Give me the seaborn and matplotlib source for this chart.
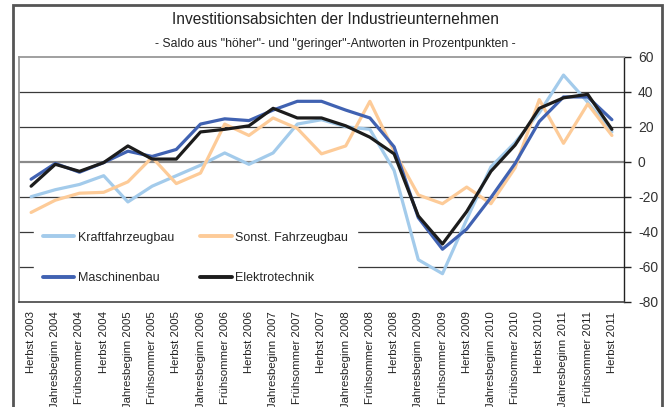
import matplotlib
matplotlib.use("Agg")
import matplotlib.pyplot as plt
import matplotlib.patches as patches
import seaborn as sns
import numpy as np

#%% data
labels = ["Herbst 2003", "Jahresbeginn 2004", "Frühsommer 2004", "Herbst 2004",
          "Jahresbeginn 2005", "Frühsommer 2005", "Herbst 2005", "Jahresbeginn 2006",
          "Frühsommer 2006", "Herbst 2006", "Jahresbeginn 2007", "Frühsommer 2007",
          "Herbst 2007", "Jahresbeginn 2008", "Frühsommer 2008", "Herbst 2008",
          "Jahresbeginn 2009", "Frühsommer 2009", "Herbst 2009", "Jahresbeginn 2010",
          "Frühsommer 2010", "Herbst 2010", "Jahresbeginn 2011", "Frühsommer 2011",
          "Herbst 2011"]
kraftfahrzeugbau = [-20, -16, -13, -8, -23, -14, -8, -2, 5, -1.5, 5, 21.5, 24,
                    20, 18.5, -5, -56, -64, -33, -3, 11, 28, 49.5, 34, 17]
sonst_fahrzeugbau = [-29, -22, -18, -17.5, -11.5, 2.5, -12.5, -6.5, 21.5, 15, 25, 19, 4.5,
                     9, 34.5, 6, -19, -24, -14.5, -24, -3.5, 35.5, 10.5, 33, 15]
maschinenbau = [-10, -1, -6, -0.5, 6, 3, 7, 21.5, 24.5, 23.5, 29.5, 34.5, 34.5,
                29.5, 25, 8.5, -32, -50, -38.5, -20.5, -1, 23, 37, 37, 24]
elektrotechnik = [-14, -1.5, -5.5, -0.5, 9, 1.5, 1.5, 17, 18.5, 20.5, 30.5, 25, 25,
                  20.5, 14, 4.5, -31, -47, -28.5, -5.5, 9.5, 30.5, 36.5, 38.5, 18.5]

series = [("Kraftfahrzeugbau", kraftfahrzeugbau, "#a3cbeb"),
          ("Sonst. Fahrzeugbau", sonst_fahrzeugbau, "#fdcb98"),
          ("Maschinenbau", maschinenbau, "#4062b2"),
          ("Elektrotechnik", elektrotechnik, "#1c1c1c")]

#%% setup plot
sns.set_style("white")
plt.rcParams["font.family"] = ["Liberation Sans", "DejaVu Sans"]
plt.rcParams["axes.unicode_minus"] = False

fig = plt.figure(figsize=(6.71, 4.07), dpi=100)
ax = fig.add_axes([19/671, 1 - 301.7/407, (624 - 19)/671, (301.7 - 56.7)/407])

x = np.arange(len(labels))
for name, vals, col in series:
    sns.lineplot(x=x, y=vals, color=col, linewidth=2.3, label=name, ax=ax, zorder=3)

ax.set_xlim(-0.5, len(labels) - 0.5)
ax.set_ylim(-80, 60)

# grid
for g in [40, 20, -20, -40, -60]:
    ax.axhline(g, color="#3a3a3a", lw=0.9, zorder=1)
ax.axhline(0, color="#8a8a8a", lw=1.6, zorder=1)

# y axis on right
ax.yaxis.tick_right()
ax.set_yticks(np.arange(-80, 61, 20))
ax.tick_params(axis="y", direction="out", length=5, width=1, color="#222",
               labelsize=10, pad=5, labelcolor="#333")

# x axis: labels at centres, tick marks between
ax.set_xticks(x)
ax.set_xticklabels(labels, rotation=90, fontsize=8.2, color="#222")
ax.tick_params(axis="x", which="major", length=0, pad=7)
ax.set_xticks(np.arange(-0.5, len(labels), 1), minor=True)
ax.tick_params(axis="x", which="minor", length=4, width=1, color="#333", direction="out")

for s in ["left", "top"]:
    ax.spines[s].set_color("#999999")
    ax.spines[s].set_linewidth(1.3)
ax.spines["right"].set_color("#222")
ax.spines["right"].set_linewidth(1)
ax.spines["bottom"].set_color("#444")
ax.spines["bottom"].set_linewidth(1.2)
ax.set_xlabel("")
ax.set_ylabel("")

# legend, row-wise order
h, l = ax.get_legend_handles_labels()
order = [0, 2, 1, 3]
leg = ax.legend([h[i] for i in order], [l[i] for i in order], ncol=2,
                loc="upper left", bbox_to_anchor=(0.025, 0.322), borderaxespad=0,
                frameon=True, fancybox=False, facecolor="white", edgecolor="white",
                framealpha=1, fontsize=9, handlelength=2.5, handletextpad=0.3,
                columnspacing=2.1, labelspacing=2.3, borderpad=0.7)
leg.set_zorder(2)
for line in leg.get_lines():
    line.set_linewidth(2.8)

# titles
fig.text(0.5, 1 - 20/407, "Investitionsabsichten der Industrieunternehmen",
         ha="center", va="center", fontsize=11.2, color="#222")
fig.text(0.5, 1 - 44/407, '- Saldo aus "höher"- und "geringer"-Antworten in Prozentpunkten -',
         ha="center", va="center", fontsize=8.8, color="#222")

# outer frame
fig.patches.append(patches.Rectangle((13/671, -0.05), (662 - 13)/671, 1.05 - 5/407,
                                     transform=fig.transFigure, fill=False,
                                     edgecolor="#555555", lw=2, clip_on=False))

plt.savefig("out.png", dpi=100)
